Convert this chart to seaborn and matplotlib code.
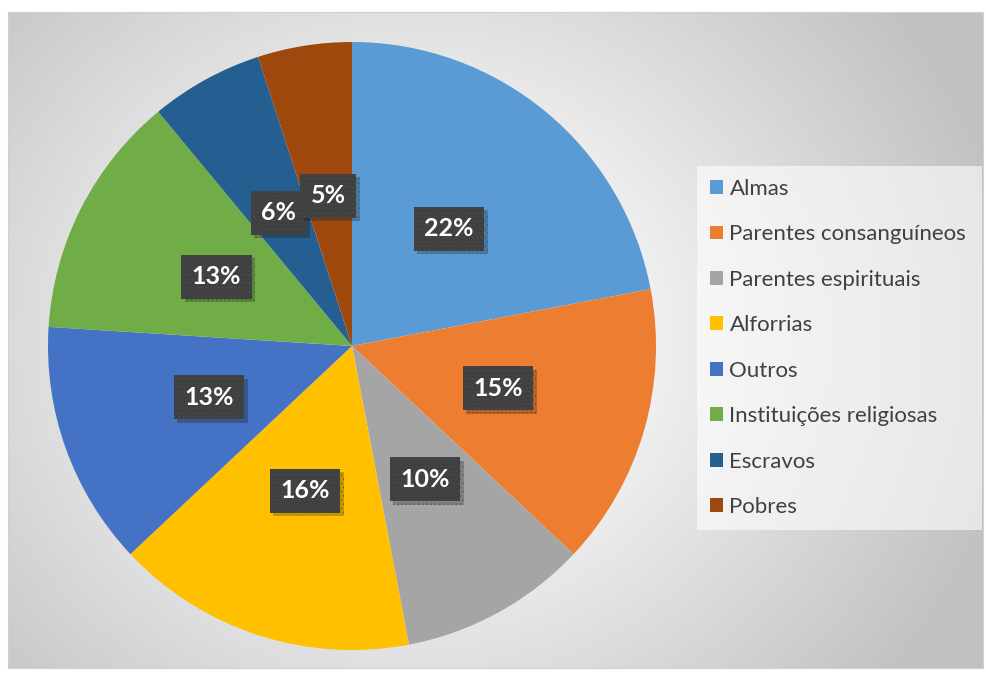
import numpy as np
import matplotlib
matplotlib.use("Agg")
import matplotlib.pyplot as plt
import matplotlib.patheffects as pe
from matplotlib.patches import Patch
import seaborn as sns

categories = ["Almas", "Parentes consanguíneos", "Parentes espirituais", "Alforrias",
              "Outros", "Instituições religiosas", "Escravos", "Pobres"]
values = [22, 15, 10, 16, 13, 13, 6, 5]
colors_hex = ["#5B9BD5", "#ED7D31", "#A5A5A5", "#FFC000",
              "#4472C4", "#70AD47", "#255E91", "#9E480E"]

sns.set_style("white")
plt.rcParams['font.family'] = ['Lato', 'DejaVu Sans']
plt.rcParams['hatch.linewidth'] = 0.4
palette = sns.color_palette(colors_hex)

W, H = 987, 673
fig = plt.figure(figsize=(W / 100, H / 100), dpi=100)
fig.patch.set_facecolor("white")

# background with radial gradient
bx0, by0, bx1, by1 = 8, 12, 983, 668
bg = fig.add_axes([bx0 / W, 1 - by1 / H, (bx1 - bx0) / W, (by1 - by0) / H])
gx, gy = np.meshgrid(np.linspace(0, 1, 400), np.linspace(0, 1, 300))
cx, cy = 0.42, 0.5
d = np.sqrt(((gx - cx) * 1.0) ** 2 + ((gy - cy) * 0.75) ** 2)
t = np.clip((d - 0.12) / 0.5, 0, 1)
val = 1.0 - 0.24 * t
img = np.dstack([val, val, val])
bg.imshow(img, aspect="auto", extent=[0, 1, 0, 1], interpolation="bilinear")
bg.set_xticks([]); bg.set_yticks([])
for s in bg.spines.values():
    s.set_color("#d0d0d0")
    s.set_linewidth(0.8)

# pie
pcx, pcy, r = 352, 346, 304
ax = fig.add_axes([(pcx - r) / W, 1 - (pcy + r) / H, 2 * r / W, 2 * r / H])
ax.set_facecolor("none")
wedges, texts, autotexts = ax.pie(values, colors=palette, startangle=90, counterclock=False,
                                  autopct="%1.0f%%", pctdistance=0.5,
                                  wedgeprops=dict(linewidth=0))
for at in autotexts:
    at.set_color("white")
    at.set_fontsize(18)
    at.set_fontweight("bold")
    at.set_bbox(dict(boxstyle="square,pad=0.42", facecolor="#404040",
                     edgecolor="#4e4e4e", linewidth=0, hatch="...."))
    at.get_bbox_patch().set_path_effects([
        pe.SimplePatchShadow(offset=(2.5, -2.5), shadow_rgbFace="black", alpha=0.22),
        pe.Normal()])
ax.set_xlim(-1, 1)
ax.set_ylim(-1, 1)
ax.axis("off")

# legend
handles = [Patch(facecolor=c, edgecolor="none") for c in palette]
lx0, ly0, lw, lh = 697, 166, 285, 361
leg = fig.legend(handles, categories, loc="upper left", mode="expand",
                 bbox_to_anchor=(lx0 / W, 1 - ly0 / H - 0.5, lw / W, 0.5),
                 bbox_transform=fig.transFigure,
                 frameon=True, fancybox=False, fontsize=16, labelcolor="#404040",
                 handlelength=0.58, handleheight=0.58, handletextpad=0.3,
                 labelspacing=1.145, borderpad=0.58, borderaxespad=0)
frame = leg.get_frame()
frame.set_facecolor("white")
frame.set_alpha(0.6)
frame.set_edgecolor("none")

fig.savefig("out.png", dpi=100, facecolor="white")
